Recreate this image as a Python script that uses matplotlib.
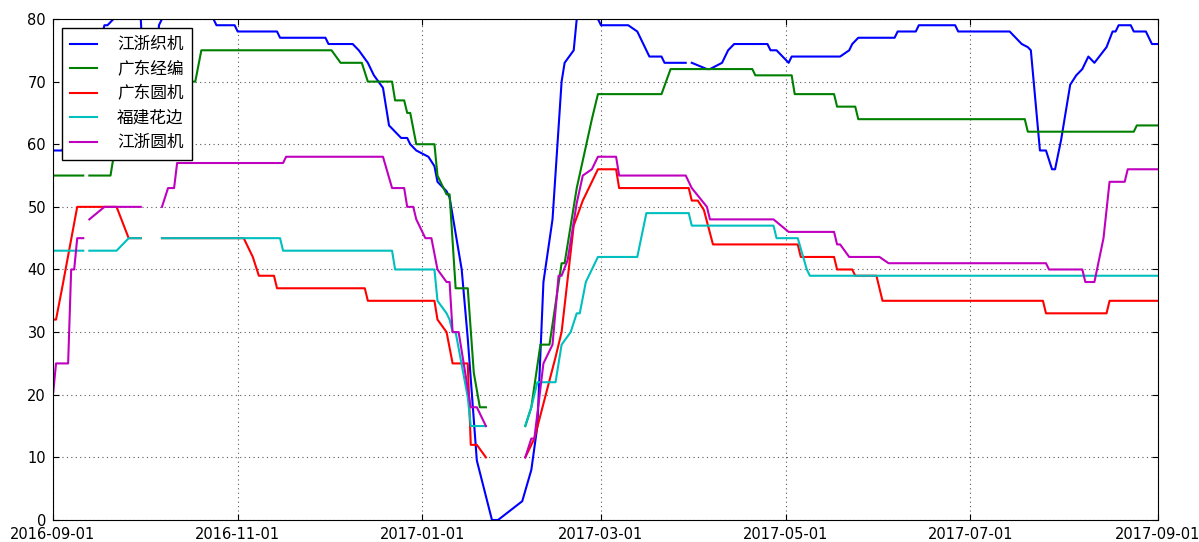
import numpy as np
import matplotlib
matplotlib.use('Agg')
import matplotlib.pyplot as plt
import matplotlib.dates as mdates
from matplotlib.font_manager import FontProperties

nan = np.nan
start = np.datetime64('2016-09-01')

# day offsets from 2016-09-01 and the read-off values (nan = missing)
zj_zhiji_days = [0, 3, 6, 12, 17, 18, 20, 29, 30, 32, 34, 35, 36, 53, 54, 60, 61, 74, 75, 90,
                 91, 99, 101, 104, 106, 109, 111, 113, 115, 117, 118, 120, 122, 124, 126, 127,
                 130, 131, 135, 137, 140, 145, 147, 155, 158, 160, 162, 165, 168, 169, 172, 173,
                 180, 181, 190, 193, 197, 201, 202, 209, 210, 211, 216, 217, 221, 223, 225, 236,
                 237, 239, 243, 244, 260, 263, 264, 266, 278, 279, 285, 286, 298, 299, 316, 320,
                 322, 323, 326, 328, 330, 331, 333, 336, 338, 340, 342, 344, 348, 350, 351, 352,
                 356, 357, 361, 362, 363, 365]
zj_zhiji_vals = [59, 59, 62, 70, 79, 79, 80, 80, 70, nan, 70, 79, 80, 80, 79, 79, 78, 78, 77, 77,
                 76, 76, 75, 73, 71, 69, 63, 62, 61, 61, 60, 59, 58.5, 58, 56.5, 54,
                 52.5, 51.5, 40, 29, 9.5, 0, 0, 3, 8, 15, 38, 48, 70, 73, 75, 80,
                 80, 79, 79, 78, 74, 74, 73, 73, nan, 73, 72, 72, 73, 75, 76, 76,
                 75, 75, 73, 74, 74, 75, 76, 77, 77, 78, 78, 79, 79, 78, 78, 76,
                 75.5, 75, 59, 59, 56, 56, 60.7, 69.5, 71, 72, 74, 73, 75.5, 78, 78, 79,
                 79, 78, 78, 77, 76, 76]

gd_jingbian_days = [0, 10, 11, 12, 19, 20, 29, 32, 36, 40, 45, 47, 49, 92, 95, 102, 104, 112,
                    113, 116, 117, 118, 120, 126, 127, 130, 131, 133, 137, 139, 141, 143, 150,
                    156, 158, 161, 164, 168, 169, 173, 178, 180, 201, 204, 231, 232, 244, 245,
                    258, 259, 265, 266, 321, 322, 357, 358, 365]
gd_jingbian_vals = [55, 55, nan, 55, 55, 58, 58, nan, 58, 64, 70, 70, 75, 75, 73, 73, 70, 70,
                    67, 67, 65, 65, 60, 60, 55, 52, 52, 37, 37, 23.5, 18, 18, nan,
                    15, 18, 28, 28, 41, 41, 53, 64, 68, 68, 72, 72, 71, 71, 68,
                    68, 66, 66, 64, 64, 62, 62, 63, 63]

gd_yuanji_days = [0, 1, 3, 8, 21, 25, 29, 32, 36, 63, 66, 68, 73, 74, 103, 104, 126, 127, 130,
                  132, 137, 138, 140, 143, 150, 156, 158, 159, 166, 168, 172, 175, 178, 180,
                  186, 187, 210, 211, 213, 215, 218, 246, 247, 258, 259, 264, 265, 272, 274,
                  327, 328, 348, 349, 365]
gd_yuanji_vals = [32, 32, 37, 50, 50, 45, 45, nan, 45, 45, 42, 39, 39, 37, 37, 35, 35, 32, 30,
                  25, 25, 12, 12, 10, nan, 10, 12, 13, 26, 30, 47, 51, 54, 56,
                  56, 53, 53, 51, 51, 49.5, 44, 44, 42, 42, 40, 40, 39, 39, 35,
                  35, 33, 33, 35, 35]

fj_huabian_days = [0, 10, 11, 12, 21, 25, 29, 32, 36, 75, 76, 112, 113, 126, 127, 130, 131,
                   132, 133, 137, 138, 143, 150, 156, 158, 160, 166, 168, 171, 173, 174, 176,
                   178, 180, 193, 196, 210, 211, 238, 239, 246, 249, 250, 365]
fj_huabian_vals = [43, 43, nan, 43, 43, 45, 45, nan, 45, 45, 43, 43, 40, 40, 35, 33, 32,
                   30, 30, 19.6, 15, 15, nan, 15, 18, 22, 22, 28, 30, 33, 33, 38,
                   40, 42, 42, 49, 49, 47, 47, 45, 45, 40, 39, 39]

zj_yuanji_days = [0, 1, 5, 6, 7, 8, 10, 11, 12, 17, 29, 32, 36, 38, 40, 41, 76, 77, 109, 112,
                  116, 117, 119, 120, 123, 125, 127, 130, 131, 132, 134, 138, 140, 143, 150,
                  156, 158, 159, 162, 165, 167, 168, 170, 173, 175, 178, 180, 186, 187, 209,
                  211, 216, 217, 238, 243, 258, 259, 260, 263, 273, 276, 328, 329, 340, 341,
                  344, 347, 349, 354, 355, 365]
zj_yuanji_vals = [20, 25, 25, 40, 40, 45, 45, nan, 48, 50, 50, nan, 50, 53, 53, 57, 57, 58, 58, 53,
                  53, 50, 50, 48, 45, 45, 40, 38, 38, 30, 30, 18, 18, 15, nan,
                  10, 13, 13, 25, 28, 39, 39, 41.5, 50.6, 55, 56, 58, 58, 55, 55,
                  53, 50, 48, 48, 46, 46, 44, 44, 42, 42, 41, 41, 40, 40, 38,
                  38, 45, 54, 54, 56, 56]

series = [
    (u'江浙织机', zj_zhiji_days, zj_zhiji_vals, 'b'),
    (u'广东经编', gd_jingbian_days, gd_jingbian_vals, 'g'),
    (u'广东圆机', gd_yuanji_days, gd_yuanji_vals, 'r'),
    (u'福建花边', fj_huabian_days, fj_huabian_vals, 'c'),
    (u'江浙圆机', zj_yuanji_days, zj_yuanji_vals, 'm'),
]

fig = plt.figure(figsize=(11.99, 5.42), dpi=100)
ax = fig.add_axes([0.0442, 0.0406, 0.9216, 0.9244])

for name, days, vals, color in series:
    x = start + np.array(days, dtype='timedelta64[D]')
    ax.plot(x, vals, color=color, linewidth=1.5, label=name)

ax.set_xlim(np.datetime64('2016-09-01'), np.datetime64('2017-09-01'))
ax.set_ylim(0, 80)
ax.set_yticks(range(0, 81, 10))
ax.xaxis.set_major_locator(mdates.MonthLocator(bymonth=[1, 3, 5, 7, 9, 11]))
ax.xaxis.set_major_formatter(mdates.DateFormatter('%Y-%m-%d'))
ax.tick_params(direction='in', top=True, right=True, labelsize=10.5, length=4, pad=5)
ax.grid(True, color='0.35', linestyle=(0, (1, 3)), linewidth=0.8)

leg = ax.legend(loc='upper left', prop=FontProperties(family=['Noto Sans CJK SC', 'DejaVu Sans'], size=12),
                fancybox=False, framealpha=1, edgecolor='k', handlelength=1.6,
                handletextpad=1.2, borderaxespad=0.55, labelspacing=0.45, borderpad=0.5)
leg.get_frame().set_linewidth(1.0)

fig.savefig('out.png', dpi=100)
